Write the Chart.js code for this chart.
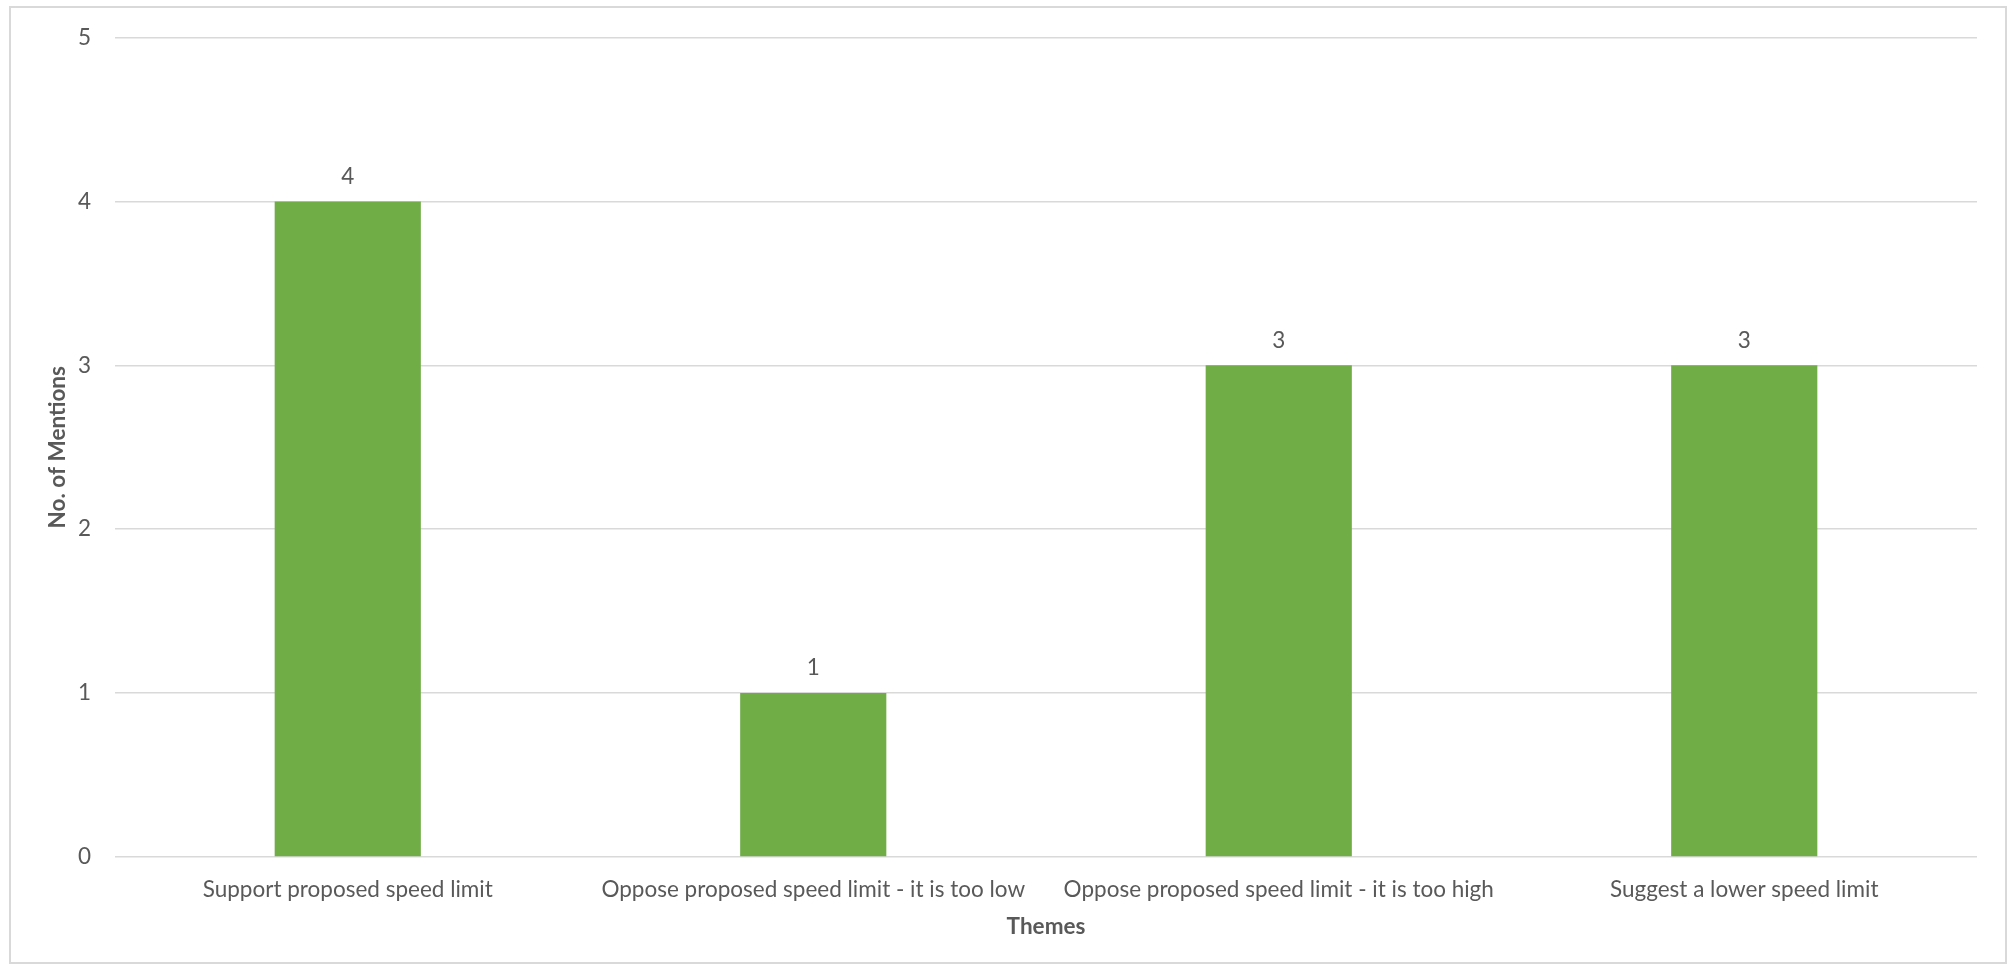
<!DOCTYPE html>
<html>
<head>
<meta charset="utf-8">
<script src="https://cdn.jsdelivr.net/npm/chart.js@4"></script>
<style>
  body { margin: 0; background: #fff; }
  #wrap { position: relative; width: 2009px; height: 966px; }
  #frame { position: absolute; left: 9px; top: 6px; width: 1994px; height: 954px; border: 2px solid #d9d9d9; }
  canvas { position: absolute; left: 0; top: 0; }
</style>
</head>
<body>
<div id="wrap">
  <div id="frame"></div>
  <canvas id="myChart" width="2009" height="966"></canvas>
</div>
<script>
const themes = [
  "Support proposed speed limit",
  "Oppose proposed speed limit - it is too low",
  "Oppose proposed speed limit - it is too high",
  "Suggest a lower speed limit",
];
const mentions = [4, 1, 3, 3];
const yTicks = [0, 1, 2, 3, 4, 5];

const fontName = "Lato, 'Open Sans', sans-serif";
const grey = "#595959";

// value labels above bars
const barLabels = {
  id: "barLabels",
  afterDatasetsDraw(chart) {
    const ctx = chart.ctx;
    const meta = chart.getDatasetMeta(0);
    ctx.save();
    ctx.font = "22.5px " + fontName;
    ctx.fillStyle = grey;
    ctx.textAlign = "center";
    ctx.textBaseline = "middle";
    meta.data.forEach((bar, i) => {
      ctx.fillText(mentions[i], bar.x, bar.y - 25);
    });
    ctx.restore();
  },
};

const ctx = document.getElementById("myChart");
const myChart = new Chart(ctx, {
  type: "bar",
  data: {
    labels: themes,
    datasets: [
      {
        label: "No. of Mentions",
        data: mentions,
        backgroundColor: "#70ad47",
        categoryPercentage: 1,
        barPercentage: 0.314,
      },
    ],
  },
  options: {
    responsive: false,
    animation: false,
    layout: { padding: { left: 0, right: 32, top: 36, bottom: 0 } },
    plugins: {
      legend: { display: false },
      tooltip: { enabled: false },
    },
    scales: {
      x: {
        grid: { display: false },
        border: { display: false },
        ticks: {
          color: grey,
          font: { family: fontName, size: 22.5 },
          padding: 11,
          maxRotation: 0,
          autoSkip: false,
        },
        title: {
          display: true,
          text: "Themes",
          color: grey,
          font: { family: fontName, size: 22.5, weight: "bold" },
          padding: { top: 0, bottom: 26 },
        },
        afterFit(scale) {
          scale.height = 109;
        },
      },
      y: {
        min: 0,
        max: 5,
        afterBuildTicks(scale) {
          scale.ticks = yTicks.map((v) => ({ value: v }));
        },
        grid: { color: "#d9d9d9", lineWidth: 1.5, drawTicks: false },
        border: { display: false },
        ticks: {
          color: grey,
          font: { family: fontName, size: 22.5 },
          padding: 24,
        },
        title: {
          display: true,
          text: "No. of Mentions",
          color: grey,
          font: { family: fontName, size: 22.5, weight: "bold" },
          padding: { top: 44, bottom: 0 },
        },
        afterFit(scale) {
          scale.width = 115;
        },
      },
    },
  },
  plugins: [barLabels],
});
</script>
</body>
</html>
